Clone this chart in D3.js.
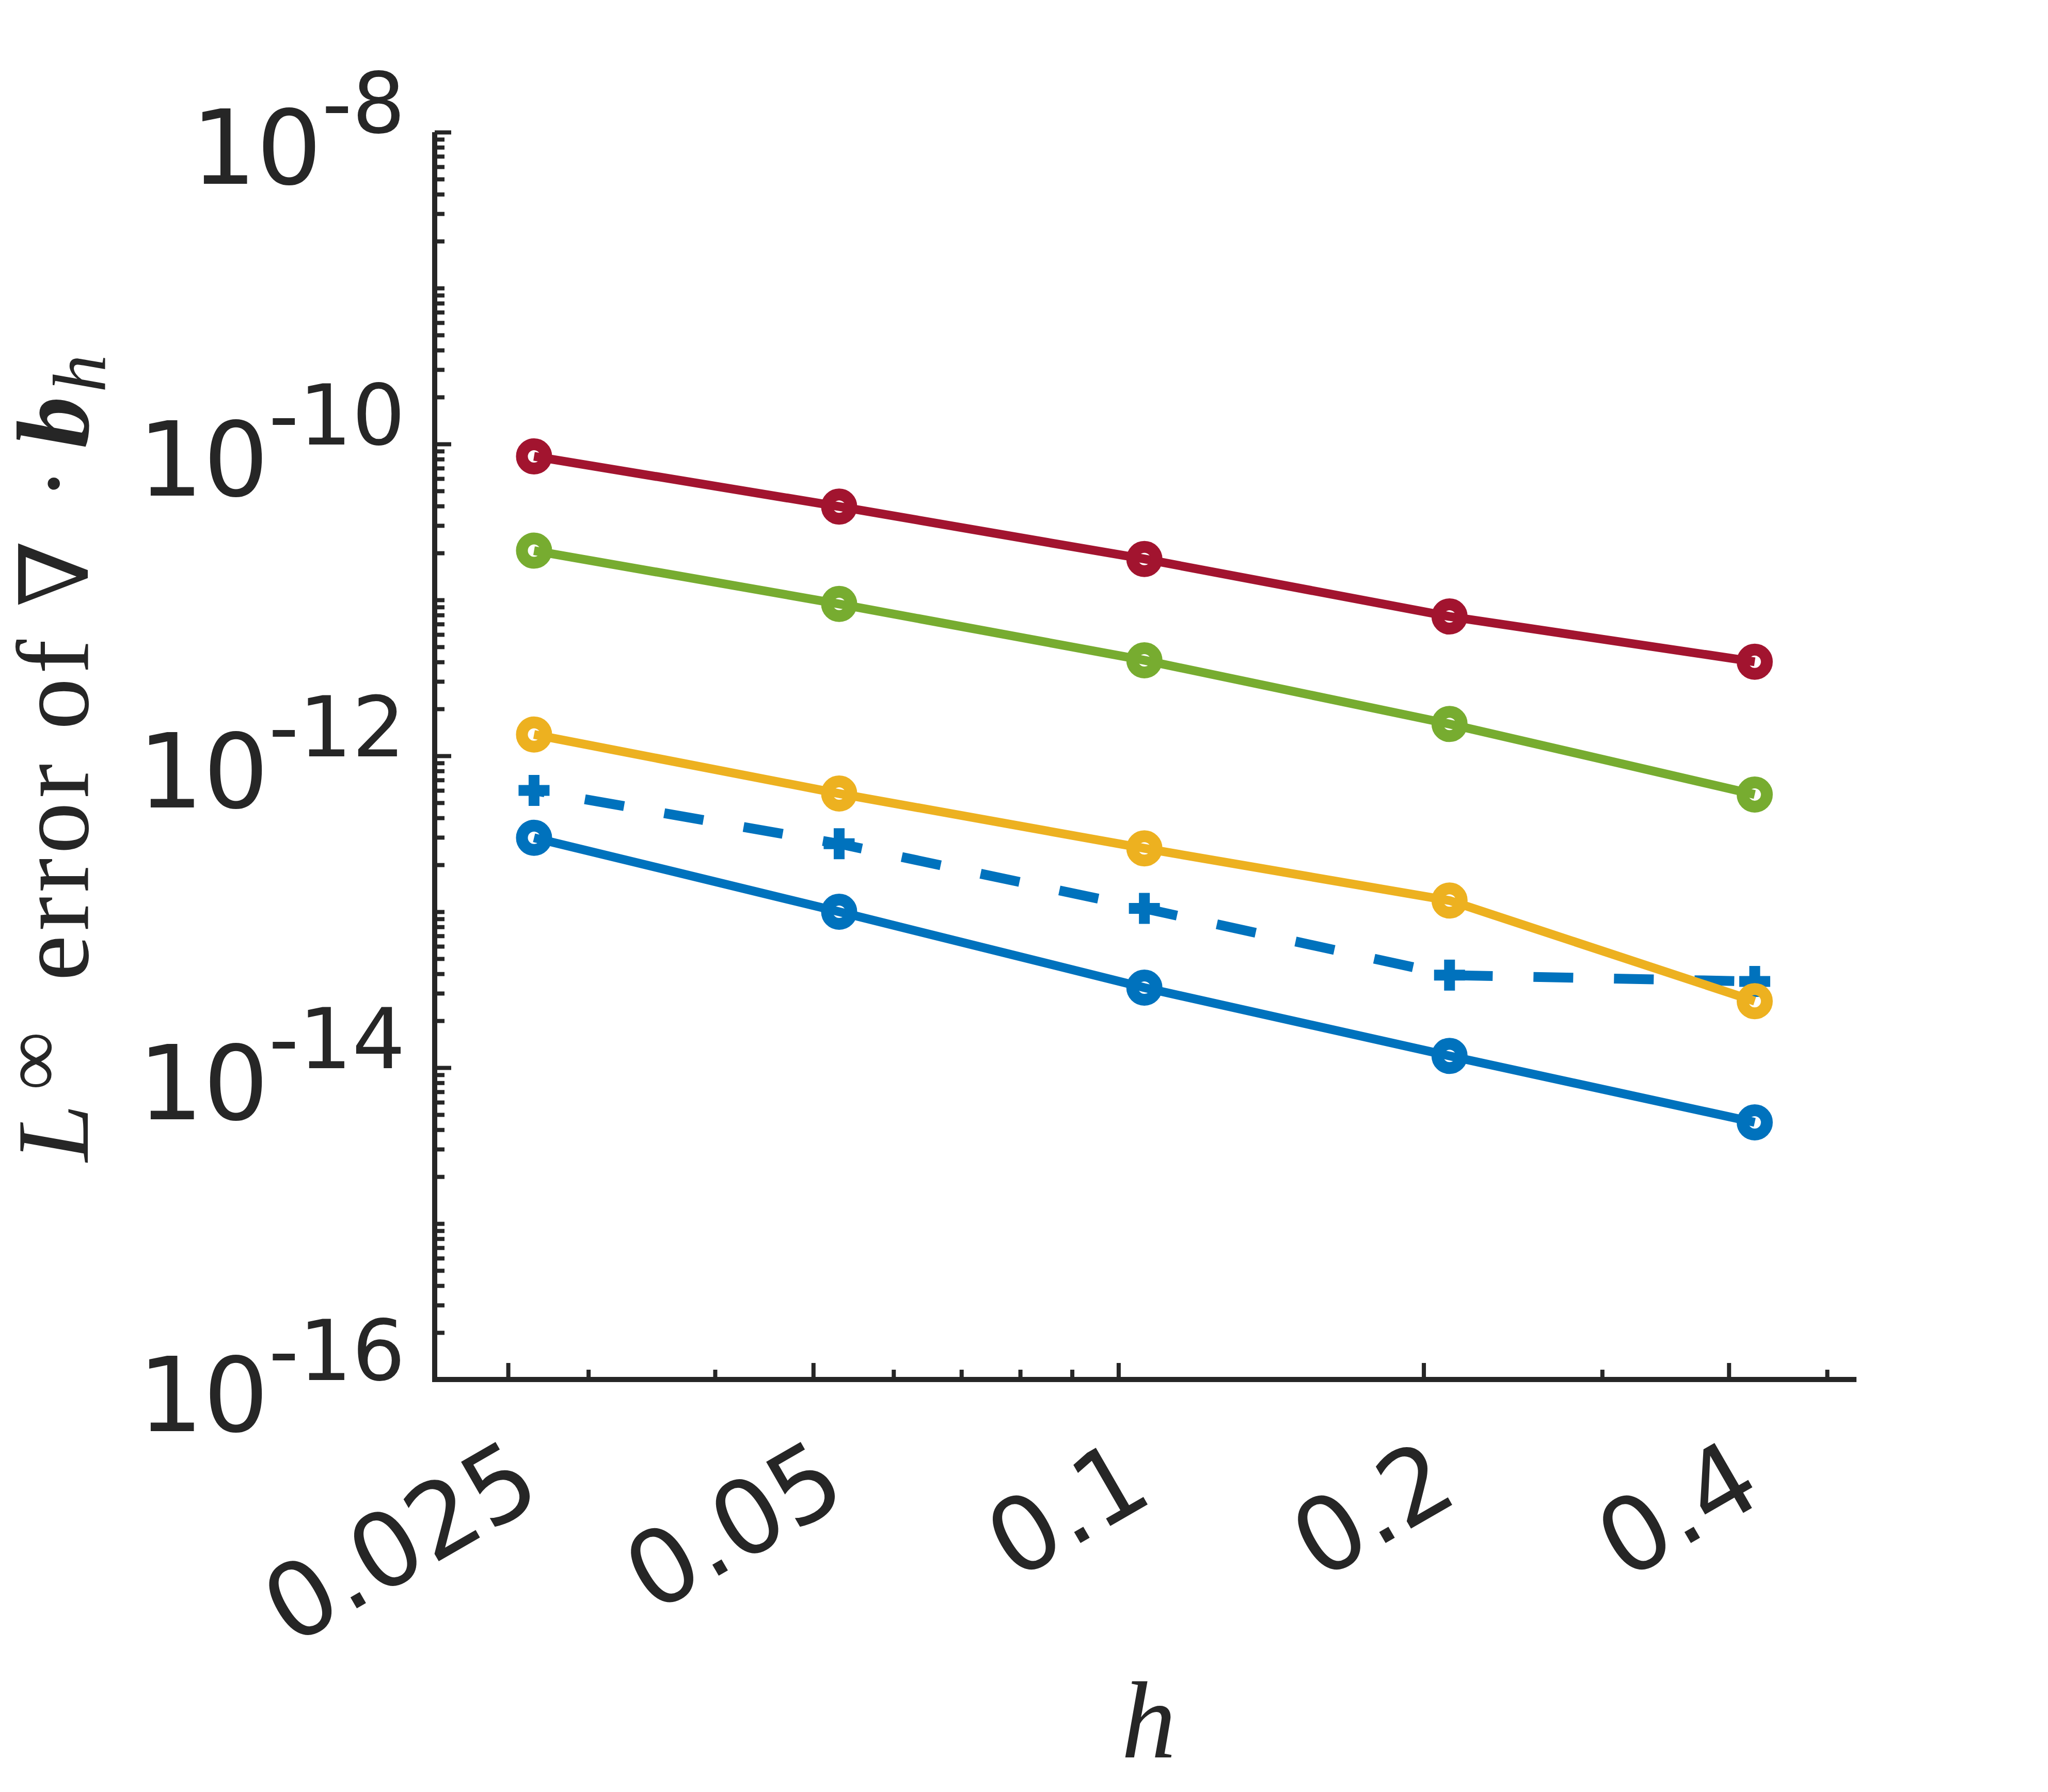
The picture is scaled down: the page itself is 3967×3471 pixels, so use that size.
<!DOCTYPE html>
<html>
<head>
<meta charset="utf-8">
<script src="https://cdn.jsdelivr.net/npm/d3@7"></script>
<style>
  body { margin: 0; background: #ffffff; }
  svg { display: block; }
</style>
</head>
<body>
<svg id="svg-plot"></svg>
<script>
// Chart data
var hValues = [0.02652, 0.05303, 0.10607, 0.21213, 0.42426];
var blueErr = [2.98e-13, 1.00e-13, 3.26e-14, 1.19e-14, 4.46e-15];
var blueDashErr = [6.0e-13, 2.73e-13, 1.05e-13, 3.92e-14, 3.57e-14];
var yellowErr = [1.37e-12, 5.73e-13, 2.55e-13, 1.18e-13, 2.67e-14];
var greenErr = [2.07e-11, 9.42e-12, 4.10e-12, 1.60e-12, 5.65e-13];
var redErr = [8.33e-11, 3.97e-11, 1.83e-11, 7.83e-12, 4.01e-12];

// Tick values and labels
var xTicks = [0.025, 0.05, 0.1, 0.2, 0.4];
var xTickLabels = ['0.025', '0.05', '0.1', '0.2', '0.4'];
var xMinorTicks = [0.03, 0.04, 0.06, 0.07, 0.08, 0.09, 0.3, 0.5];
var yTicks = [1e-16, 1e-14, 1e-12, 1e-10, 1e-8];
var yTickExp = ['-16', '-14', '-12', '-10', '-8'];
var xLimits = [0.021163, 0.53455];
var yLimits = [1e-16, 1e-8];

// Layout
var w = 3967;
var h = 3471;
var plotLeft = 842;
var plotRight = 3596;
var plotTop = 256;
var plotBottom = 2672;
var axisColor = '#262626';

var series = [
  { values: blueErr, color: '#0072BD', dash: null, marker: 'circle' },
  { values: blueDashErr, color: '#0072BD', dash: '77,79', marker: 'plus' },
  { values: yellowErr, color: '#EDB120', dash: null, marker: 'circle' },
  { values: greenErr, color: '#77AC30', dash: null, marker: 'circle' },
  { values: redErr, color: '#A2142F', dash: null, marker: 'circle' }
];

var svg = d3.select('#svg-plot')
  .attr('width', w)
  .attr('height', h)
  .style('background', '#ffffff');

var xScale = d3.scaleLog().domain(xLimits).range([plotLeft, plotRight]);
var yScale = d3.scaleLog().domain(yLimits).range([plotBottom, plotTop]);

// Y minor ticks: 1..9 in every decade, except the labelled ones
var yMinorTicks = [];
for (var e = -16; e < -8; e++) {
  for (var k = 1; k < 10; k++) {
    if (k == 1 && e % 2 == 0) continue;
    yMinorTicks.push(k * Math.pow(10, e));
  }
}

// Axes (ticks point inward)
var yAxisMajor = d3.axisRight(yScale).tickValues(yTicks).tickSize(32).tickFormat('');
var yAxisMinor = d3.axisRight(yScale).tickValues(yMinorTicks).tickSize(19).tickFormat('');
var xAxisMajor = d3.axisTop(xScale).tickValues(xTicks).tickSize(32).tickFormat('');
var xAxisMinor = d3.axisTop(xScale).tickValues(xMinorTicks).tickSize(19).tickFormat('');

function styleAxis(g) {
  g.select('.domain').remove();
  g.selectAll('.tick line').attr('stroke', axisColor).attr('stroke-width', 8);
}

svg.append('g').attr('transform', 'translate(' + plotLeft + ',0)').call(yAxisMajor).call(styleAxis);
svg.append('g').attr('transform', 'translate(' + plotLeft + ',0)').call(yAxisMinor).call(styleAxis);
svg.append('g').attr('transform', 'translate(0,' + plotBottom + ')').call(xAxisMajor).call(styleAxis);
svg.append('g').attr('transform', 'translate(0,' + plotBottom + ')').call(xAxisMinor).call(styleAxis);

svg.append('path')
  .attr('d', 'M' + plotLeft + ',' + plotTop + 'V' + plotBottom + 'H' + plotRight)
  .attr('fill', 'none')
  .attr('stroke', axisColor)
  .attr('stroke-width', 10)
  .attr('stroke-linecap', 'butt')
  .attr('stroke-linejoin', 'miter');

// Y tick labels 10^n
var yLabels = svg.append('g')
  .attr('font-family', 'DejaVu Sans')
  .attr('fill', axisColor);

yTicks.forEach(function(t, i) {
  var txt = yLabels.append('text')
    .attr('x', 785)
    .attr('y', yScale(t) + 100)
    .attr('text-anchor', 'end')
    .attr('font-size', 199);
  txt.append('tspan').text('10');
  txt.append('tspan')
    .attr('dy', -99)
    .attr('font-size', 162)
    .text(yTickExp[i]);
});

// X tick labels, rotated
svg.append('g')
  .selectAll('text')
  .data(xTicks)
  .enter()
  .append('text')
  .attr('transform', (d) => 'translate(' + xScale(d) + ',' + (plotBottom + 107) + ') rotate(-30)')
  .attr('text-anchor', 'end')
  .attr('dy', 145)
  .attr('font-family', 'DejaVu Sans')
  .attr('font-size', 199)
  .attr('fill', axisColor)
  .text((d, i) => xTickLabels[i]);

// Lines and markers
var line = d3.line()
  .x((d, i) => xScale(hValues[i]))
  .y((d) => yScale(d));

series.forEach(function(s) {
  var path = svg.append('path')
    .datum(s.values)
    .attr('d', line)
    .attr('fill', 'none')
    .attr('stroke', s.color)
    .attr('stroke-width', 17)
    .attr('stroke-linejoin', 'round');
  if (s.dash) {
    path.attr('stroke-dasharray', s.dash)
      .attr('stroke-dashoffset', 56)
      .attr('stroke-width', 19);
  }

  if (s.marker == 'circle') {
    svg.append('g')
      .selectAll('circle')
      .data(s.values)
      .enter()
      .append('circle')
      .attr('cx', (d, i) => xScale(hValues[i]))
      .attr('cy', (d) => yScale(d))
      .attr('r', 23.5)
      .attr('fill', 'none')
      .attr('stroke', s.color)
      .attr('stroke-width', 23);
  } else {
    svg.append('g')
      .selectAll('path')
      .data(s.values)
      .enter()
      .append('path')
      .attr('d', (d, i) => {
        var cx = xScale(hValues[i]);
        var cy = yScale(d);
        return 'M' + (cx - 30) + ',' + cy + 'H' + (cx + 30) + 'M' + cx + ',' + (cy - 30) + 'V' + (cy + 30);
      })
      .attr('fill', 'none')
      .attr('stroke', s.color)
      .attr('stroke-width', 21);
  }
});

// Axis titles
svg.append('text')
  .attr('x', (plotLeft + plotRight) / 2 + 6)
  .attr('y', 3404)
  .attr('text-anchor', 'middle')
  .attr('font-family', 'Liberation Serif')
  .attr('font-style', 'italic')
  .attr('font-size', 212)
  .attr('fill', axisColor)
  .text('h');

// y title: L^inf error of nabla . b_h (pieces placed along the rotated baseline)
var yTitle = svg.append('text')
  .attr('transform', 'translate(170,0) rotate(-90)')
  .attr('font-family', 'Liberation Serif')
  .attr('font-size', 200)
  .attr('fill', axisColor);

yTitle.append('tspan').attr('x', -2250).attr('y', 0).attr('font-style', 'italic').text('L');
yTitle.append('tspan').attr('x', -2112).attr('y', -54).attr('font-size', 160).text('\u221E');
yTitle.append('tspan').attr('x', -1900).attr('y', 0).attr('letter-spacing', 8).text('error of');
yTitle.append('tspan').attr('x', -1176).attr('y', 0)
  .attr('font-family', 'DejaVu Serif').attr('font-size', 185).text('\u2207');
yTitle.append('tspan').attr('x', -970).attr('y', 0).text('\u00B7');
yTitle.append('tspan').attr('x', -868).attr('y', 0)
  .attr('font-style', 'italic').attr('font-weight', 'bold').text('b');
yTitle.append('tspan').attr('x', -760).attr('y', 34)
  .attr('font-style', 'italic').attr('font-size', 146).text('h');
</script>
</body>
</html>
